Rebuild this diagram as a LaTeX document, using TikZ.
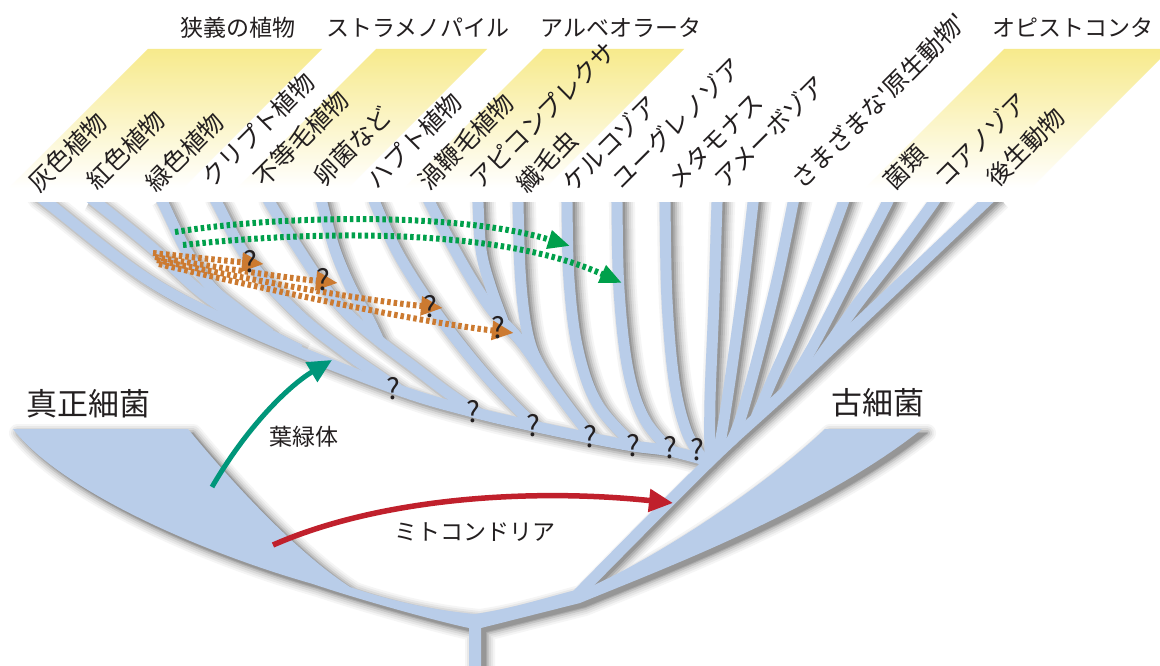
\documentclass[tikz,border=0pt]{standalone}
\usepackage{fontspec}
\newfontfamily\jp{Noto Sans CJK JP}
\usetikzlibrary{arrows.meta}
\definecolor{treeblue}{RGB}{185,205,233}
\definecolor{yel}{RGB}{247,234,140}
\definecolor{teal2}{RGB}{0,150,122}
\definecolor{mitored}{RGB}{192,32,44}
\definecolor{dotgreen}{RGB}{0,160,75}
\definecolor{dotorange}{RGB}{204,122,48}
\definecolor{ink}{RGB}{35,31,32}

\newcommand\bottompath{(13,429) -- (188,429) .. controls (220,468) and (290,548) .. (350,587) .. controls (385,599) and (430,610) .. (475,614) .. controls (510,609) and (545,598) .. (572,591) -- (584,589) -- (592,586) .. controls (660,555) and (760,490) .. (825,429) -- (922,429) .. controls (820,510) and (660,570) .. (580,603) -- (481,628) -- (481,670) -- (469,670) -- (469,628) .. controls (440,622) and (360,600) .. (313,584) .. controls (200,552) and (60,490) .. (13,429) -- cycle}

\newcommand\treepaths[1]{%
 \draw[#1] plot[smooth,tension=.6] coordinates {(36,194) (48,203) (150,281) (250,331) (393,388) (473,412) (533,426) (590,438) (633,446) (670,451) (712,462)};
 \draw[#1] plot[smooth,tension=.6] coordinates {(86,195) (97,203) (150,246) (202,293) (250,324) (300,350)};
 \draw[#1] plot[smooth,tension=.6] coordinates {(158,194) (163,203) (186,250) (210,286) (238,310) (270,334)};
 \draw[#1] plot[smooth,tension=.6] coordinates {(213,194) (217,203) (250,262) (300,316) (345,352) (375,373) (398,389)};
 \draw[#1] plot[smooth,tension=.6] coordinates {(266,194) (270,203) (298,248) (325,288) (350,316) (378,340) (415,368) (448,393) (478,413)};
 \draw[#1] plot[smooth,tension=.6] coordinates {(321,194) (322,203) (335,250) (352,290) (368,318) (380,343)};
 \draw[#1] plot[smooth,tension=.6] coordinates {(373,194) (375,203) (400,257) (440,318) (488,378) (536,427)};
 \draw[#1] plot[smooth,tension=.6] coordinates {(426,194) (430,203) (452,245) (472,280) (492,310) (518,338) (540,368) (566,404) (593,439)};
 \draw[#1] plot[smooth,tension=.6] coordinates {(478,194) (478,203) (481,250) (490,285) (503,321)};
 \draw[#1] plot[smooth,tension=.6] coordinates {(518,194) (518,203) (520,270) (525,320) (533,352) (548,379)};
 \draw[#1] plot[smooth,tension=.6] coordinates {(567,194) (567,203) (569,280) (578,350) (598,405) (636,447)};
 \draw[#1] plot[smooth,tension=.6] coordinates {(617,194) (617,203) (619,290) (628,370) (645,420) (672,451)};
 \draw[#1] plot[smooth,tension=.6] coordinates {(665,194) (665,203) (667,300) (674,380) (686,430) (702,458)};
 \draw[#1] plot[smooth,tension=.6] coordinates {(718,194) (717,203) (714,300) (710,400) (710,461)};
 \draw[#1] plot[smooth,tension=.6] coordinates {(754,194) (753,203) (744,280) (733,360) (724,420) (718,454)};
 \draw[#1] plot[smooth,tension=.6] coordinates {(795,194) (793,203) (777,280) (757,360) (740,420) (731,442)};
 \draw[#1] plot[smooth,tension=.6] coordinates {(845,194) (843,203) (818,270) (792,335) (770,385) (755,420)};
 \draw[#1] plot[smooth,tension=.6] coordinates {(890,194) (887,203) (860,255) (832,310) (808,355) (786,391)};
 \draw[#1] plot[smooth,tension=.6] coordinates {(937,194) (933,203) (895,255) (858,303) (832,340) (814,365)};
 \draw[#1] plot[smooth,tension=.6] coordinates {(572,600) (708,463) (800,378) (994,194)};
}
% one shadow layer: colour, width for the filled base, width for the branches
\newcommand\shadowlayer[3]{%
 \filldraw[line join=round, #1, line width=#2] \bottompath;
 \treepaths{line cap=butt, line join=round, #1, line width=#3}
}

\begin{document}
\begin{tikzpicture}[x=1pt,y=-1pt,
  lbl/.style={font=\jp\fontsize{24.5}{24.5}\selectfont, text=ink, rotate=45, anchor=south west, inner sep=0pt},
  grp/.style={font=\jp\fontsize{23}{23}\selectfont, text=ink, inner sep=0pt},
  big/.style={font=\jp\fontsize{31}{31}\selectfont, text=ink, inner sep=0pt},
  midlbl/.style={font=\jp\fontsize{23}{23}\selectfont, text=ink, inner sep=0pt},
  qm/.style={font=\jp\fontsize{29}{29}\selectfont, text=ink, inner sep=0pt},
  para/.style={top color=yel, bottom color=white, draw=none},
  dotarrow/.style={line width=6pt, dash pattern=on 3.5pt off 3pt, -{Triangle[length=22pt,width=18pt]}},
  branch/.style={line cap=butt, line join=round},
]
\useasboundingbox (0,0) rectangle (1160,666);
\fill[white] (0,0) rectangle (1160,666);

% yellow group bands
\shade[para] (148,49) -- (322,49) -- (183,188) -- (9,188) -- cycle;
\shade[para] (376,49) -- (487,49) -- (348,188) -- (237,188) -- cycle;
\shade[para] (543,49) -- (684,49) -- (545,188) -- (404,188) -- cycle;
\shade[para] (1004,49) -- (1170,49) -- (1031,188) -- (865,188) -- cycle;

% soft shadows, lightest layer first for everything
\begin{scope}
 \clip (0,203) rectangle (1160,666);
 \begin{scope}[shift={(5,4)}]
  \shadowlayer{black!4}{18pt}{26pt}
  \shadowlayer{black!9}{14pt}{22pt}
  \shadowlayer{black!15}{10pt}{18pt}
  \shadowlayer{black!23}{6pt}{14pt}
  \shadowlayer{black!32}{2.5pt}{10pt}
  \shadowlayer{black!41}{0.1pt}{6pt}
 \end{scope}
\end{scope}

% blue tree
\fill[treeblue] \bottompath;
\begin{scope}
 \clip (0,203) rectangle (1160,666);
 \treepaths{branch, treeblue, line width=11pt}
\end{scope}

% endosymbiosis arrows
\coordinate (chS) at (212,487); \coordinate (chE) at (332,360);
\draw[teal2, line width=5pt, -{Triangle[length=24pt,width=22pt]}] (chS) .. controls (248,425) and (290,385) .. (chE);
\coordinate (miS) at (273,545); \coordinate (miE) at (673,503);
\draw[mitored, line width=5.5pt, -{Triangle[length=24pt,width=22pt]}] (miS) .. controls (380,498) and (530,488) .. (miE);

\coordinate (oa1S) at (153,253); \coordinate (oa1E) at (264,264);
\coordinate (oa2S) at (155,257); \coordinate (oa2E) at (338,283);
\coordinate (oa3S) at (157,260); \coordinate (oa3E) at (443,308);
\coordinate (oa4S) at (159,264); \coordinate (oa4E) at (514,333);
\draw[dotorange, dotarrow] (oa1S) .. controls (190,257) and (228,261) .. (oa1E);
\draw[dotorange, dotarrow] (oa2S) .. controls (220,268) and (280,277) .. (oa2E);
\draw[dotorange, dotarrow] (oa3S) .. controls (250,280) and (360,300) .. (oa3E);
\draw[dotorange, dotarrow] (oa4S) .. controls (280,293) and (420,322) .. (oa4E);

\coordinate (ga1S) at (175,232); \coordinate (ga1E) at (570,246);
\coordinate (ga2S) at (183,245); \coordinate (ga2E) at (622,283);
\draw[dotgreen, dotarrow] (ga1S) .. controls (280,215) and (460,212) .. (ga1E);
\draw[dotgreen, dotarrow] (ga2S) .. controls (320,230) and (500,228) .. (ga2E);

% question marks
\node[qm] (qa1) at (250,262) {?};
\node[qm] (qa2) at (323,280) {?};
\node[qm] (qa3) at (430,307) {?};
\node[qm] (qa4) at (498,328) {?};
\node[qm] (qb1) at (393,389) {?};
\node[qm] (qb2) at (473,412) {?};
\node[qm] (qb3) at (533,426) {?};
\node[qm] (qb4) at (590,437) {?};
\node[qm] (qb5) at (633,446) {?};
\node[qm] (qb6) at (670,448) {?};
\node[qm] (qb7) at (697,450) {?};

% group labels
\node[grp] (g1) at (238,28) {狭義の植物};
\node[grp] (g2) at (418,28) {ストラメノパイル};
\node[grp] (g3) at (621,28) {アルベオラータ};
\node[grp] (g4) at (1073,28) {オピストコンタ};

% taxon labels
\node[lbl] (l1) at (41,195) {灰色植物};
\node[lbl] (l2) at (99,193) {紅色植物};
\node[lbl] (l3) at (158,195) {緑色植物};
\node[lbl] (l4) at (214,190) {クリプト植物};
\node[lbl] (l5) at (266,190) {不等毛植物};
\node[lbl] (l6) at (326,189) {卵菌など};
\node[lbl] (l7) at (379,192) {ハプト植物};
\node[lbl] (l8) at (431,193) {渦鞭毛植物};
\node[lbl] (l9) at (481,192) {アピコンプレクサ};
\node[lbl] (l10) at (529,196) {繊毛虫};
\node[lbl] (l11) at (574,195) {ケルコゾア};
\node[lbl] (l12) at (624,192) {ユーグレノゾア};
\node[lbl] (l13) at (679,192) {メタモナス};
\node[lbl] (l14) at (726,191) {アメーボゾア};
\node[lbl] (l15) at (804,192) {さまざまな'原生動物'};
\node[lbl] (l16) at (896,193) {菌類};
\node[lbl] (l17) at (946,190) {コアノゾア};
\node[lbl] (l18) at (999,190) {後生動物};

% domain and organelle labels
\node[big] (bac) at (89,404) {真正細菌};
\node[big] (arc) at (878,403) {古細菌};
\node[midlbl] (chl) at (304,437) {葉緑体};
\node[midlbl] (mito) at (475,532) {ミトコンドリア};
\end{tikzpicture}
\end{document}
